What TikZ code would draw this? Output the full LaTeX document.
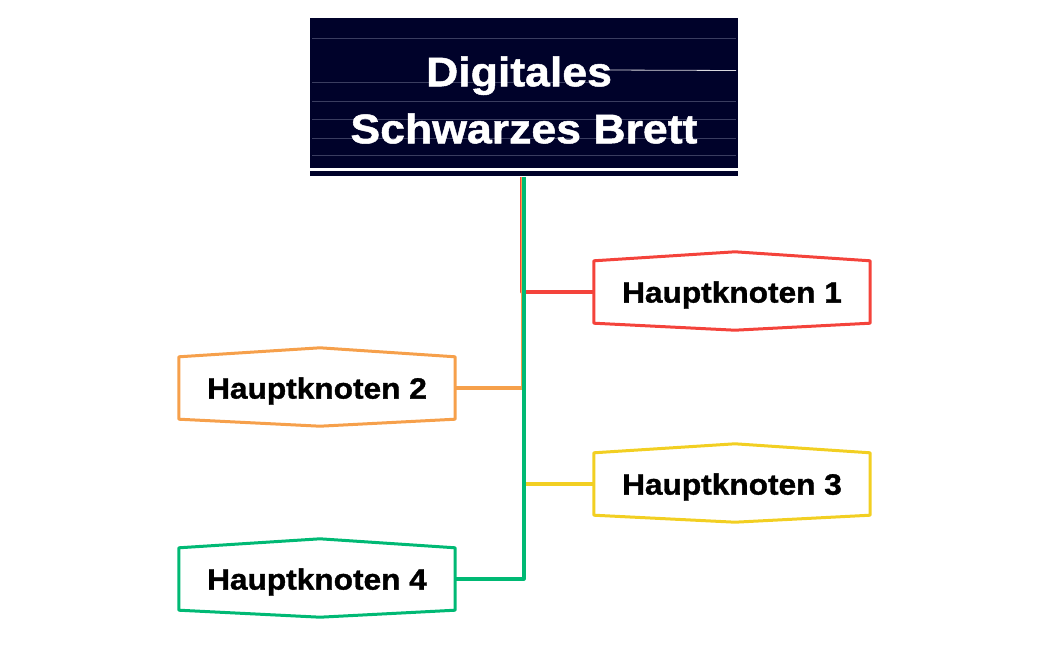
\documentclass[tikz,border=0pt]{standalone}
\usepackage{fontspec}
\setmainfont{Liberation Sans}[FakeStretch=1.08, BoldFeatures={FakeStretch=1.08, FakeBold=1.2}]
\usetikzlibrary{calc}
\definecolor{navy}{HTML}{00022A}
\definecolor{navyline}{HTML}{3A3D60}
\definecolor{cred}{HTML}{F4433B}
\definecolor{corange}{HTML}{F6A04B}
\definecolor{cyellow}{HTML}{F2CF22}
\definecolor{cgreen}{HTML}{00B974}
\tikzset{
  hk/.style={minimum width=276pt, minimum height=62pt, inner sep=0pt, text depth=0pt, font=\fontsize{29.3}{32}\selectfont\bfseries, text=black},
  conn/.style={line width=3.2pt, line join=round},
  hexline/.style={line width=3pt, line join=round, line cap=round},
}
\newcommand{\hexbox}[2]{%
  \draw[hexline, #2] (#1.north west) -- ($(#1.north)+(3,-9)$) -- (#1.north east) -- (#1.south east) -- ($(#1.south)+(3,7)$) -- (#1.south west) -- cycle;}
\begin{document}
\begin{tikzpicture}[x=1pt, y=-1pt]
\useasboundingbox (0,0) rectangle (1049,650);
% title board
\fill[navy] (310,18) rectangle (738,168);
\fill[navy] (310,171) rectangle (738,176);
\foreach \yy/\xa/\xb in {38/312/736, 82/312/600, 101/312/736, 119/312/736, 138/312/736, 155/312/736} {
  \draw[navyline, line width=0.5pt] (\xa,\yy) -- (\xb,\yy);
}
\draw[white, line width=0.8pt, opacity=0.85] (605,70) -- (736,70.5);
\node[text=white, font=\fontsize{41.3}{57}\selectfont\bfseries, align=center, inner sep=0pt] (title) at (524,100) {Digitales\hspace*{10pt}\\Schwarzes Brett};
\coordinate (top) at (524,177);
% nodes
\node[hk] (n1) at (732,292) {Hauptknoten 1};
\node[hk] (n2) at (317,388) {Hauptknoten 2};
\node[hk] (n3) at (732,484) {Hauptknoten 3};
\node[hk] (n4) at (317,579) {Hauptknoten 4};
% connectors
\draw[conn, cred] ([xshift=-2pt]top) |- (n1.west);
\draw[conn, corange] ([xshift=-1pt]top) |- (n2.east);
\draw[conn, cyellow] (top) |- (n3.west);
\draw[conn, cgreen] (top) |- (n4.east);
% boxes
\hexbox{n1}{cred}
\hexbox{n2}{corange}
\hexbox{n3}{cyellow}
\hexbox{n4}{cgreen}
\end{tikzpicture}
\end{document}
